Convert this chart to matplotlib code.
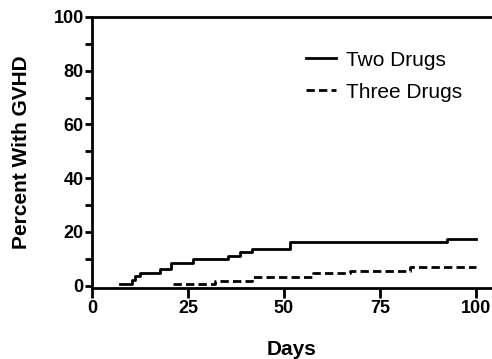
import matplotlib
matplotlib.use('Agg')
import matplotlib.pyplot as plt

# Kaplan-Meier style step data
days_two = [7.3, 10.3, 11.3, 12.6, 17.7, 20.7, 26.4, 35.5, 38.5, 41.6, 51.5, 92.4, 100]
pct_two = [0.8, 2.2, 3.5, 4.8, 6.1, 8.6, 9.9, 11.1, 12.4, 13.7, 16.2, 17.4, 17.4]

days_three = [21, 32, 41.6, 57.6, 67.2, 82.8, 100]
pct_three = [0.8, 1.8, 3.1, 4.6, 5.6, 6.9, 6.9]

x_ticks = [0, 25, 50, 75, 100]
y_ticks = [0, 20, 40, 60, 80, 100]

plt.rcParams['font.family'] = ['Liberation Sans', 'DejaVu Sans']

fig = plt.figure(figsize=(4.92, 3.59), dpi=100)
ax = fig.add_axes([0.187, 0.198, 0.813, 0.755])

ax.plot(days_two, pct_two, color='black', lw=2, drawstyle='steps-post', label='Two Drugs')
ax.plot(days_three, pct_three, color='black', lw=2, drawstyle='steps-post',
        dashes=(3, 1.5), label='Three Drugs')

ax.set_xlim(0, 104.2)
ax.set_ylim(-0.8, 100)
ax.set_xticks(x_ticks)
ax.set_yticks(y_ticks)
ax.set_yticks(range(10, 100, 20), minor=True)
ax.tick_params(axis='both', width=2, labelsize=13, colors='black')
ax.tick_params(axis='x', length=7, direction='out', pad=2)
ax.tick_params(axis='y', length=5, direction='out', pad=1)
ax.tick_params(axis='y', which='minor', length=5, width=2)
for lab in ax.get_xticklabels() + ax.get_yticklabels():
    lab.set_fontweight('bold')

ax.spines['right'].set_visible(False)
for s in ['left', 'bottom', 'top']:
    ax.spines[s].set_linewidth(2)

ax.set_xlabel('Days', fontsize=15, fontweight='bold', labelpad=16)
ax.set_ylabel('Percent With GVHD', fontsize=15, fontweight='bold', labelpad=16)

ax.legend(loc='upper left', bbox_to_anchor=(0.535, 0.875), frameon=False, fontsize=15,
          handlelength=1.45, handletextpad=0.45, labelspacing=0.62, borderpad=0, borderaxespad=0)

fig.savefig('out.png', dpi=100)
